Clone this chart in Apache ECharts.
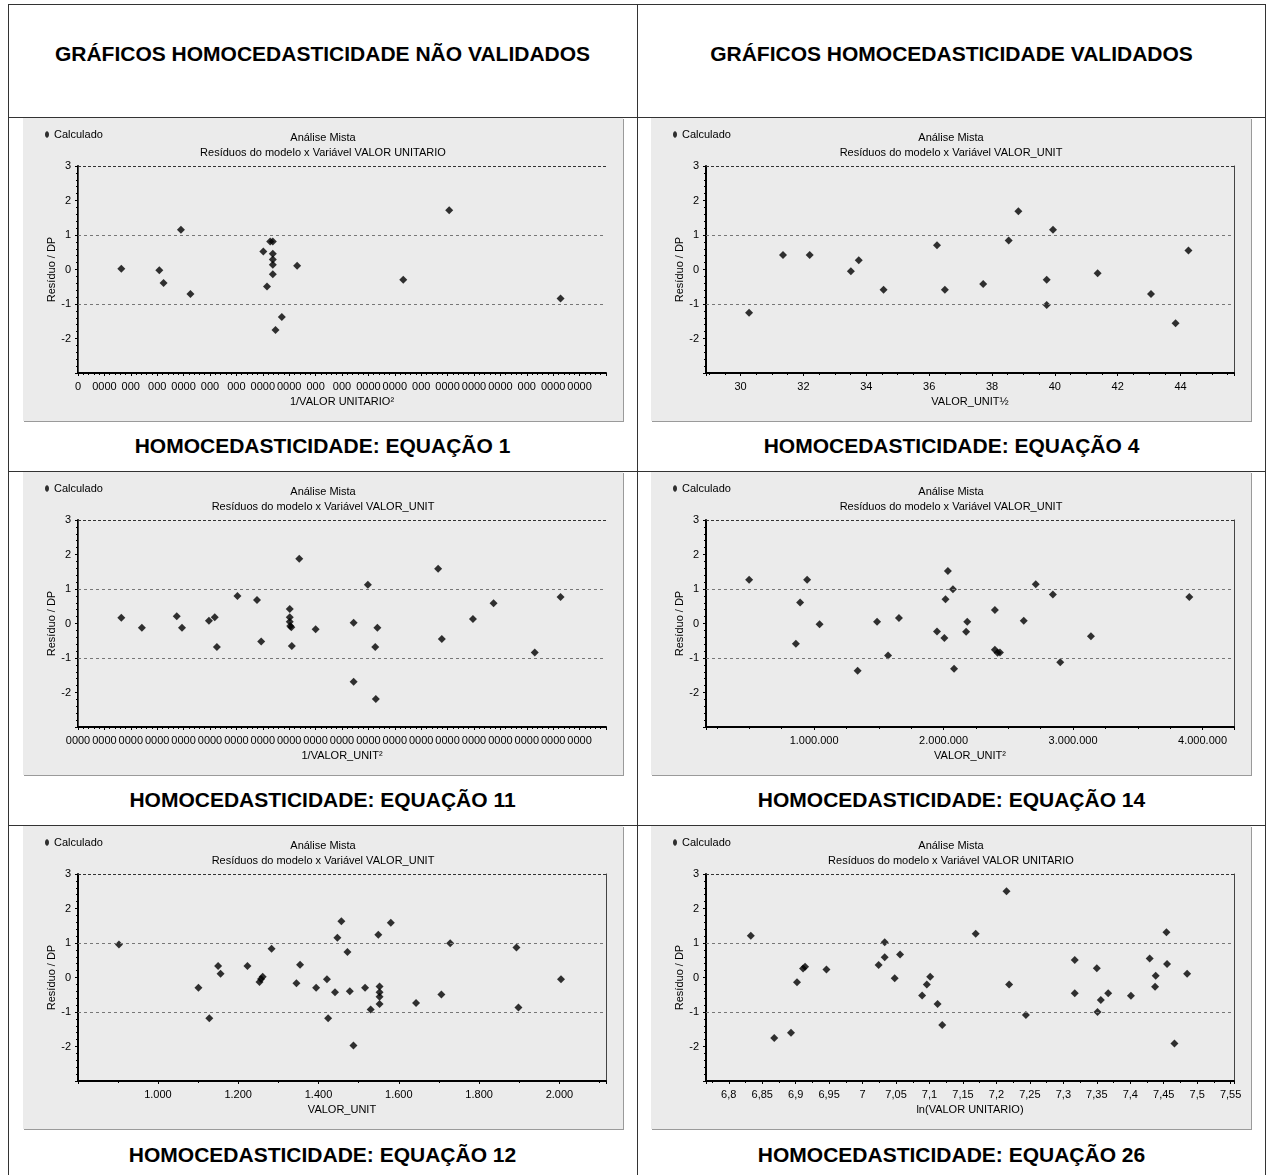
<!DOCTYPE html>
<html>
<head>
<meta charset="utf-8">
<title>Gráficos homocedasticidade</title>
<script src="https://cdn.jsdelivr.net/npm/echarts@6/dist/echarts.min.js"></script>
<style>
  body { margin: 0; background: #fff; font-family: "Liberation Sans", Arial, sans-serif; }
  .page { position: relative; width: 1268px; height: 1175px; }
  .line { position: absolute; background: #333; }
  .head, .cap {
    position: absolute; width: 629px; text-align: center;
    font-weight: bold; font-size: 21px; line-height: 24px; color: #000;
  }
  .chart { position: absolute; width: 600px; height: 303px; box-shadow: 1px 1px 0 #9a9a9a; }
</style>
</head>
<body>
<div class="page">
  <!-- bordas da tabela -->
  <div class="line" style="left:8px;top:4px;width:1258px;height:1px"></div>
  <div class="line" style="left:8px;top:4px;width:1px;height:1171px"></div>
  <div class="line" style="left:1265px;top:4px;width:1px;height:1171px"></div>
  <div class="line" style="left:637px;top:4px;width:1px;height:1171px"></div>
  <div class="line" style="left:8px;top:117px;width:1258px;height:1px"></div>
  <div class="line" style="left:8px;top:471px;width:1258px;height:1px"></div>
  <div class="line" style="left:8px;top:825px;width:1258px;height:1px"></div>

  <div class="head" style="left:8px;top:42px">GRÁFICOS HOMOCEDASTICIDADE NÃO VALIDADOS</div>
  <div class="head" style="left:637px;top:42px">GRÁFICOS HOMOCEDASTICIDADE VALIDADOS</div>

  <div class="chart" id="eq1" style="left:23px;top:118px"></div>
  <div class="chart" id="eq4" style="left:651px;top:118px"></div>
  <div class="cap" style="left:8px;top:434px">HOMOCEDASTICIDADE: EQUAÇÃO 1</div>
  <div class="cap" style="left:637px;top:434px">HOMOCEDASTICIDADE: EQUAÇÃO 4</div>

  <div class="chart" id="eq11" style="left:23px;top:472px"></div>
  <div class="chart" id="eq14" style="left:651px;top:472px"></div>
  <div class="cap" style="left:8px;top:788px">HOMOCEDASTICIDADE: EQUAÇÃO 11</div>
  <div class="cap" style="left:637px;top:788px">HOMOCEDASTICIDADE: EQUAÇÃO 14</div>

  <div class="chart" id="eq12" style="left:23px;top:826px"></div>
  <div class="chart" id="eq26" style="left:651px;top:826px"></div>
  <div class="cap" style="left:8px;top:1143px">HOMOCEDASTICIDADE: EQUAÇÃO 12</div>
  <div class="cap" style="left:637px;top:1143px">HOMOCEDASTICIDADE: EQUAÇÃO 26</div>
</div>

<script>
// equação 1 - eixo x sem escala legível (valores minúsculos), posição relativa 0-100
var x1 = [8.2, 15.4, 16.2, 19.5, 21.3, 35.1, 35.8, 36.4, 36.9, 36.9, 36.9, 36.9, 36.9, 37.4, 38.6, 41.5, 61.6, 70.3, 91.4];
var y1 = [0.02, -0.02, -0.39, 1.15, -0.71, 0.52, -0.49, 0.81, 0.81, 0.46, 0.29, 0.14, -0.14, -1.75, -1.38, 0.11, -0.30, 1.72, -0.84];
var ticks1 = ['0', '0000', '000', '000', '0000', '000', '000', '0000', '0000', '000', '000',
              '0000', '0000', '000', '0000', '0000', '0000', '000', '0000', '0000', ''];

// equação 4
var x4 = [30.27, 31.35, 32.20, 33.51, 33.76, 34.55, 36.25, 36.50, 37.72, 38.53, 38.84, 39.74, 39.74, 39.94, 41.36, 43.06, 43.84, 44.25];
var y4 = [-1.25, 0.42, 0.42, -0.05, 0.27, -0.59, 0.70, -0.59, -0.42, 0.84, 1.69, -0.30, -1.03, 1.15, -0.11, -0.71, -1.56, 0.55];

// equação 11 - mesmo caso da equação 1
var x11 = [8.2, 12.1, 18.7, 19.7, 24.8, 25.9, 26.3, 30.2, 33.9, 34.7, 40.1, 40.1, 40.1, 40.2, 40.4, 40.5, 41.9, 45.0,
           52.2, 52.2, 54.9, 56.3, 56.4, 56.7, 68.2, 68.9, 74.8, 78.7, 86.5, 91.4];
var y11 = [0.17, -0.12, 0.21, -0.12, 0.08, 0.18, -0.68, 0.80, 0.68, -0.52, 0.42, 0.18, 0.05, -0.07, -0.11, -0.65, 1.88, -0.17,
           0.02, -1.69, 1.12, -0.68, -2.19, -0.12, 1.59, -0.45, 0.13, 0.59, -0.84, 0.77];
var ticks11 = ['0000', '0000', '0000', '0000', '0000', '0000', '0000', '0000', '0000', '0000', '0000',
               '0000', '0000', '0000', '0000', '0000', '0000', '0000', '0000', '0000', ''];

// equação 14
var x14 = [498000, 859000, 892000, 946000, 1042000, 1336000, 1486000, 1571000, 1655000, 1949000, 2006000, 2015000, 2033000, 2072000,
           2081000, 2174000, 2183000, 2396000, 2396000, 2417000, 2435000, 2619000, 2712000, 2844000, 2901000, 3138000, 3898000];
var y14 = [1.27, -0.59, 0.61, 1.27, -0.02, -1.37, 0.05, -0.93, 0.16, -0.23, -0.42, 0.70, 1.52, 0.99,
           -1.31, -0.24, 0.05, 0.39, -0.76, -0.85, -0.84, 0.08, 1.14, 0.84, -1.12, -0.37, 0.77];

// equação 12
var x12 = [903, 1101, 1128, 1150, 1156, 1223, 1253, 1257, 1261, 1283, 1345, 1354, 1394, 1421, 1424, 1441, 1447, 1457,
           1472, 1478, 1487, 1516, 1530, 1549, 1552, 1552, 1552, 1552, 1580, 1643, 1706, 1728, 1893, 1898, 2004];
var y12 = [0.96, -0.30, -1.18, 0.33, 0.11, 0.33, -0.13, -0.04, 0.02, 0.83, -0.17, 0.37, -0.30, -0.05, -1.18, -0.43, 1.15, 1.63,
           0.74, -0.40, -1.97, -0.30, -0.93, 1.24, -0.26, -0.43, -0.56, -0.77, 1.59, -0.74, -0.49, 0.99, 0.87, -0.87, -0.05];

// equação 26
var x26 = [6.833, 6.868, 6.893, 6.902, 6.911, 6.914, 6.946, 7.024, 7.033, 7.033, 7.048, 7.056, 7.089, 7.096, 7.101, 7.112, 7.119, 7.169,
           7.215, 7.219, 7.244, 7.317, 7.317, 7.350, 7.351, 7.356, 7.367, 7.401, 7.429, 7.437, 7.438, 7.454, 7.455, 7.466, 7.485];
var y26 = [1.21, -1.75, -1.60, -0.14, 0.26, 0.31, 0.23, 0.36, 0.59, 1.02, -0.02, 0.67, -0.52, -0.20, 0.02, -0.77, -1.38, 1.27,
           2.50, -0.20, -1.09, 0.51, -0.46, 0.27, -1.00, -0.65, -0.46, -0.53, 0.55, -0.27, 0.05, 1.31, 0.39, -1.91, 0.11];

var FONT = '"Liberation Sans", Arial, sans-serif';

function pairs(xs, ys) {
  return xs.map(function (x, i) { return [x, ys[i]]; });
}

function milhar(v) {
  return String(Math.round(v)).replace(/\B(?=(\d{3})+(?!\d))/g, '.');
}

function drawChart(id, sub, xName, xAxisOpt, xs, ys) {
  var chart = echarts.init(document.getElementById(id));
  var xAxis = Object.assign({
    type: 'value',
    name: xName,
    nameLocation: 'middle',
    nameGap: 23,
    nameMoveOverlap: false,
    nameTextStyle: { fontSize: 11, color: '#000', fontFamily: FONT },
    axisLine: { show: true, onZero: false, lineStyle: { color: '#000', width: 2 } },
    axisTick: { show: true, length: 3, lineStyle: { color: '#000' } },
    minorTick: { show: true, splitNumber: 4, length: 2, lineStyle: { color: '#000' } },
    splitLine: { show: false },
    axisLabel: { fontSize: 11, color: '#000', margin: 8, fontFamily: FONT, showMinLabel: false, showMaxLabel: false }
  }, xAxisOpt);

  chart.setOption({
    backgroundColor: '#ebebeb',
    animation: false,
    title: {
      text: 'Análise Mista',
      subtext: sub,
      left: 'center',
      top: 13,
      padding: 0,
      itemGap: 2,
      textStyle: { fontSize: 11, fontWeight: 'normal', color: '#000', lineHeight: 13, fontFamily: FONT },
      subtextStyle: { fontSize: 11, color: '#000', lineHeight: 13, fontFamily: FONT }
    },
    legend: {
      data: ['Calculado'],
      left: 22,
      top: 11,
      padding: 0,
      icon: 'path://M3,0C4.7,0,6,2.2,6,5C6,7.8,4.7,10,3,10C1.3,10,0,7.8,0,5C0,2.2,1.3,0,3,0Z',
      itemWidth: 4,
      itemHeight: 7,
      textStyle: { fontSize: 11, color: '#000', fontFamily: FONT }
    },
    grid: { left: 55, right: 17, top: 48, height: 207 },
    xAxis: xAxis,
    yAxis: [{
      type: 'value',
      min: -3,
      max: 3,
      interval: 1,
      name: 'Resíduo / DP',
      nameLocation: 'middle',
      nameGap: 21,
      nameMoveOverlap: false,
      nameTextStyle: { fontSize: 11, color: '#000', fontFamily: FONT },
      axisLine: { show: true, onZero: false, lineStyle: { color: '#000', width: 2 } },
      axisTick: { show: true, length: 3, lineStyle: { color: '#000' } },
      minorTick: { show: true, splitNumber: 5, length: 2, lineStyle: { color: '#000' } },
      splitLine: { show: false },
      axisLabel: { fontSize: 11, color: '#000', margin: 7, fontFamily: FONT, showMinLabel: false }
    }, {
      // borda direita do gráfico
      type: 'value',
      min: -3,
      max: 3,
      position: 'right',
      axisLine: { show: true, lineStyle: { color: '#444', width: 1 } },
      axisTick: { show: false },
      axisLabel: { show: false },
      splitLine: { show: false }
    }],
    series: [{
      name: 'Calculado',
      type: 'scatter',
      symbol: 'diamond',
      symbolSize: 8,
      itemStyle: { color: '#000' },
      data: pairs(xs, ys),
      markLine: {
        silent: true,
        symbol: 'none',
        label: { show: false },
        data: [
          { yAxis: 3, lineStyle: { color: '#333', type: [3, 2], width: 1 } },
          { yAxis: 1, lineStyle: { color: '#777', type: [3, 3], width: 1 } },
          { yAxis: -1, lineStyle: { color: '#777', type: [3, 3], width: 1 } }
        ]
      }
    }]
  });
}

drawChart('eq1', 'Resíduos do modelo x Variável VALOR UNITARIO', '1/VALOR UNITARIO²', {
  min: 0, max: 100, interval: 5,
  minorTick: { show: true, splitNumber: 5, length: 2, lineStyle: { color: '#000' } },
  axisLabel: { fontSize: 11, color: '#000', margin: 8, fontFamily: FONT,
    formatter: function (v, i) { return ticks1[i] || ''; } }
}, x1, y1);

drawChart('eq4', 'Resíduos do modelo x Variável VALOR_UNIT', 'VALOR_UNIT½', {
  min: 28.9, max: 45.7, splitNumber: 8
}, x4, y4);

drawChart('eq11', 'Resíduos do modelo x Variável VALOR_UNIT', '1/VALOR_UNIT²', {
  min: 0, max: 100, interval: 5,
  minorTick: { show: true, splitNumber: 5, length: 2, lineStyle: { color: '#000' } },
  axisLabel: { fontSize: 11, color: '#000', margin: 8, fontFamily: FONT,
    formatter: function (v, i) { return ticks11[i] || ''; } }
}, x11, y11);

drawChart('eq14', 'Resíduos do modelo x Variável VALOR_UNIT', 'VALOR_UNIT²', {
  min: 165000, max: 4243000, splitNumber: 4,
  axisLabel: { fontSize: 11, color: '#000', margin: 8, fontFamily: FONT, showMinLabel: false, showMaxLabel: false,
    formatter: milhar }
}, x14, y14);

drawChart('eq12', 'Resíduos do modelo x Variável VALOR_UNIT', 'VALOR_UNIT', {
  min: 801, max: 2116, splitNumber: 6,
  minorTick: { show: true, splitNumber: 2, length: 2, lineStyle: { color: '#000' } },
  axisLabel: { fontSize: 11, color: '#000', margin: 8, fontFamily: FONT, showMinLabel: false, showMaxLabel: false,
    formatter: milhar }
}, x12, y12);

drawChart('eq26', 'Resíduos do modelo x Variável VALOR UNITARIO', 'ln(VALOR UNITARIO)', {
  min: 6.766, max: 7.555, splitNumber: 16,
  minorTick: { show: true, splitNumber: 2, length: 2, lineStyle: { color: '#000' } },
  axisLabel: { fontSize: 11, color: '#000', margin: 8, fontFamily: FONT, showMinLabel: false, showMaxLabel: false,
    formatter: function (v) { return String(Math.round(v * 100) / 100).replace('.', ','); } }
}, x26, y26);
</script>
</body>
</html>
